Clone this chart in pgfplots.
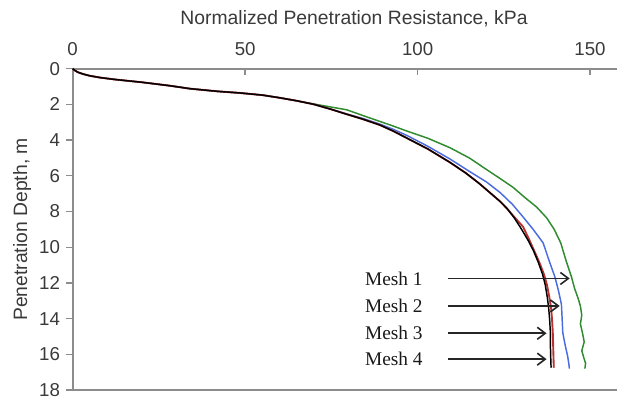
\documentclass[border=0pt]{standalone}
\usepackage{pgfplots}
\pgfplotsset{compat=1.18}
\usepackage{fontspec}
\setmainfont{Liberation Sans}
\newfontfamily\timesf{Liberation Serif}
\usetikzlibrary{arrows.meta}
\definecolor{axgray}{HTML}{8C8C8C}
\definecolor{txtgray}{HTML}{3A3A3A}
\definecolor{cgreen}{HTML}{2E8B2E}
\definecolor{cblue}{HTML}{4A6CE0}
\definecolor{cred}{HTML}{B83232}
\begin{document}
\begin{tikzpicture}
\begin{axis}[
  at={(0,0)}, anchor=south west,
  scale only axis, width=410.5pt, height=241pt,
  xmin=0, xmax=158.7, ymin=0, ymax=18,
  y dir=reverse,
  xtick pos=right, xticklabel pos=right, ytick pos=left,
  xtick={0,50,100,150}, ytick={0,2,...,18},
  axis line style={draw=axgray, line width=1.4pt},
  major tick length=5pt,
  x tick style={axgray, line width=1pt},
  y tick style={axgray, line width=1pt},
  xtick align=inside, ytick align=outside,
  /pgf/number format/assume math mode=true,
  tick label style={font=\fontsize{14}{16}\selectfont, text=txtgray},
  xticklabel style={yshift=6pt},
  yticklabel style={xshift=-1pt},
  title={Normalized Penetration Resistance, kPa},
  title style={font=\fontsize{14.5}{17}\selectfont, text=txtgray, at={(axis description cs:0.514,1.13)}, anchor=center},
  ylabel={Penetration Depth, m},
  ylabel style={font=\fontsize{14.5}{17}\selectfont, text=txtgray, at={(axis description cs:-0.0925,0.5)}, anchor=center},
  clip=false,
]
\addplot[cgreen, line width=1.1pt] coordinates {
(0,0) (0.5,0.08) (1.5,0.2) (3,0.3) (5,0.4) (8,0.5) (12,0.6) (20,0.76) (28,0.95) (34,1.12) (42,1.27) (48.5,1.36) (55,1.48) (60,1.63) (65,1.8) (70,1.98)
(72,2.05) (79.4,2.3) (86,2.75) (92,3.15) (97,3.5) (103,3.9) (109.4,4.43) (115,5.0) (120,5.65) (123.9,6.15) (127.7,6.65) (131,7.2) (134.5,7.75) (137.4,8.35) (139.6,9.0) (141.5,9.76) (143.2,10.85) (144.6,11.66) (145.5,12.3) (146.6,12.9) (147.2,13.3) (147.6,13.8) (147.2,14.3) (147.8,14.8) (148.3,15.3) (147.6,15.8) (148.2,16.2) (148.7,16.5) (148.5,16.8)
};
\addplot[cblue, line width=1.1pt] coordinates {
(0,0) (0.5,0.08) (1.5,0.2) (3,0.3) (5,0.4) (8,0.5) (12,0.6) (20,0.76) (28,0.95) (34,1.12) (42,1.27) (48.5,1.36) (55,1.48) (60,1.63) (65,1.8) (70,2.0) (75,2.28) (79.4,2.53)
(84,2.78) (89,3.1) (93,3.4) (97,3.75) (103,4.35) (109.4,5.06) (115,5.75) (120,6.35) (124,6.95) (127.5,7.6) (130.6,8.31) (133.5,9.0) (136.4,9.76) (138.3,10.85) (139.8,11.66) (140.8,12.4) (141.7,13.2) (141.9,14.0) (142.1,14.8) (142.8,15.5) (143.5,16.1) (143.9,16.6) (144,16.8)
};
\addplot[cred, line width=1.4pt] coordinates {
(0,0) (0.5,0.08) (1.5,0.2) (3,0.3) (5,0.4) (8,0.5) (12,0.6) (20,0.76) (28,0.95) (34,1.12) (42,1.27) (48.5,1.36) (55,1.48) (60,1.63) (65,1.8) (70,2.0) (75,2.28) (79.4,2.55) (84,2.82) (89,3.15) (93,3.5) (97,3.9) (103,4.5) (109.4,5.25) (114,5.85) (118,6.45) (121,6.95) (124,7.45) (126,7.85) (128,8.3)
(130.6,8.86) (132.3,9.55) (133.8,10.2) (135.3,10.85) (136.6,11.5) (137.5,12.1) (138.2,12.8) (138.7,13.4) (139,14.1) (139.2,14.8) (139.3,15.5) (139.4,16.2) (139.5,16.75)
};
\addplot[black, line width=1.1pt] coordinates {
(0,0) (0.5,0.08) (1.5,0.2) (3,0.3) (5,0.4) (8,0.5) (12,0.6) (20,0.76) (28,0.95) (34,1.12) (42,1.27) (48.5,1.36) (55,1.48) (60,1.63) (65,1.8) (70,2.0) (75,2.28) (79.4,2.55) (84,2.82) (89,3.15) (93,3.5) (97,3.9) (103,4.5) (109.4,5.25) (114,5.85) (118,6.45) (121,6.95) (124,7.45) (126,7.85) (128,8.35) (130,8.95) (132,9.6) (133.6,10.2) (135,10.85) (136.2,11.5) (137,12.1) (137.6,12.8) (138,13.4) (138.3,14.1) (138.5,14.8) (138.5,15.5) (138.6,16.2) (138.7,16.75)
};
\foreach \yy/\xx/\lab in {11.75/144.1/Mesh 1, 13.29/141.2/Mesh 2, 14.82/137.4/Mesh 3, 16.27/137.4/Mesh 4}{
  \edef\temp{\noexpand\draw[black!85, line width=1.2pt, -{Straight Barb[length=6pt,width=9pt]}] (axis cs:108.9,\yy) -- (axis cs:\xx,\yy);
  \noexpand\node[anchor=west, inner sep=0pt, font=\noexpand\timesf\noexpand\fontsize{14.5}{17}\noexpand\selectfont, text=black!90] at (axis cs:84.7,\yy) {\lab};}
  \temp
}
\end{axis}
\pgfresetboundingbox
\path[use as bounding box] (-54.5pt,-13pt) rectangle (408.2pt,292.5pt);
\end{tikzpicture}
\end{document}
